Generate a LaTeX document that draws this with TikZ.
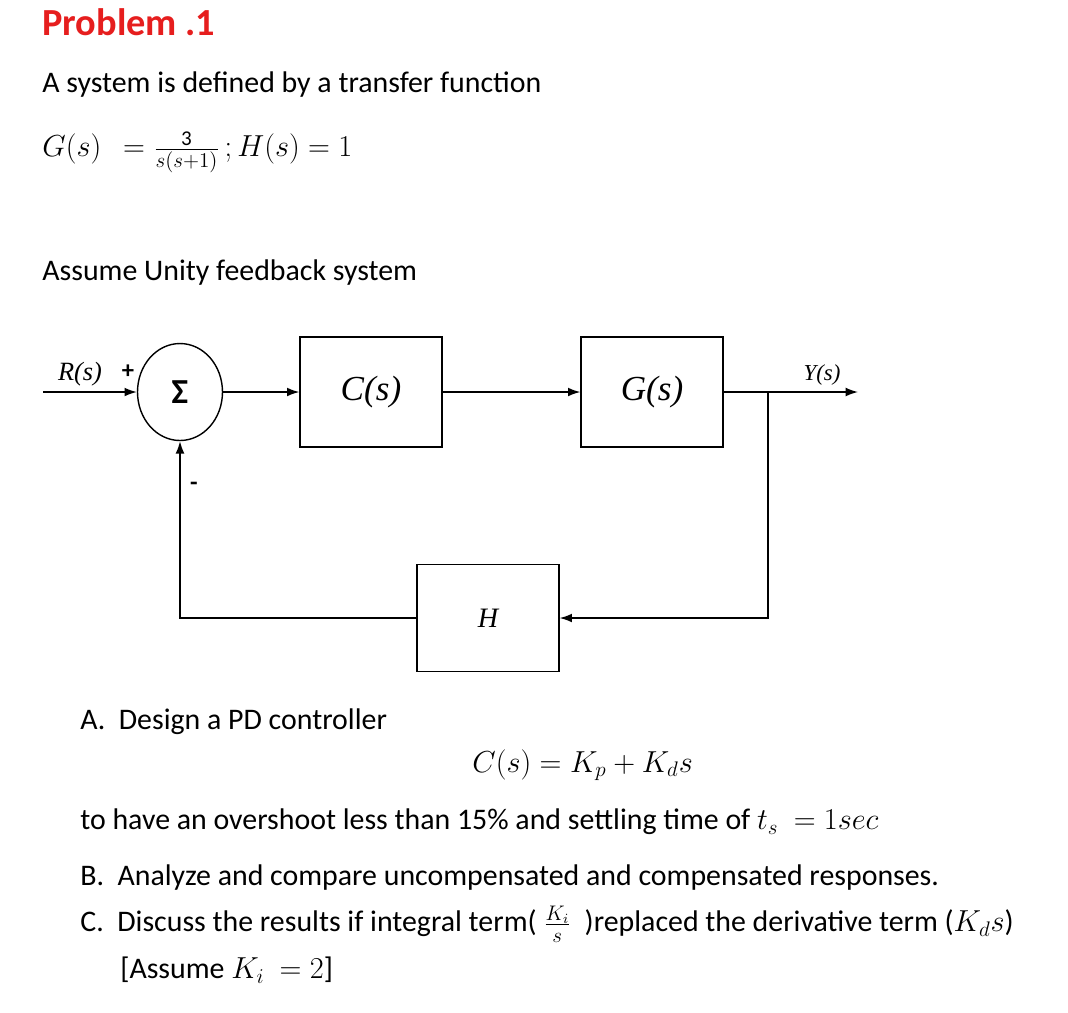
\documentclass[tikz,border=0pt]{standalone}
\usepackage{fontspec}
\setmainfont{Carlito}
\newfontfamily\blockfont{Liberation Serif}
\usetikzlibrary{shapes.geometric,arrows.meta}
\definecolor{titlered}{RGB}{230,30,30}
\tikzset{
  txt/.style={anchor=west, font=\fontsize{17}{20}\selectfont, inner sep=0pt},
  blockbox/.style={draw, thick, minimum width=2.84cm, minimum height=2.2cm,
    font=\blockfont\itshape\fontsize{20}{24}\selectfont},
  sig/.style={thick, -{Latex[length=7pt,width=5pt]}},
  wire/.style={thick}
}
\begin{document}
\begin{tikzpicture}[x=0.02cm, y=-0.02cm]
    \useasboundingbox (0,0) rectangle (1068,1012);

    % Problem text
    \node[txt, font=\bfseries\fontsize{21.8}{24}\selectfont, text=titlered] (title) at (42,22) {Problem .1};
    \node[txt] (intro) at (42,85) {A system is defined by a transfer function};
    \node[txt] (plant) at (42,152) {$G(s)\ \ =\frac{\mbox{\fontsize{12}{12}\selectfont 3}}{s(s+1)}\,;H(s)=1$};
    \node[txt] (unity) at (42,273) {Assume Unity feedback system};

    % Block diagram
    \coordinate (in) at (43,392);
    \node[draw, thick, ellipse, minimum width=1.7cm, minimum height=1.94cm, inner sep=0pt,
      font=\bfseries\fontsize{20}{20}\selectfont] (sum) at (180,392) {Σ};
    \node[blockbox] (ctrl) at (371,392) {C(s)};
    \node[blockbox] (plantbox) at (652,392) {G(s)};
    \node[blockbox, minimum height=2.14cm] (fb) at (488,618) {\fontsize{16}{18}\selectfont H};
    \coordinate (branch) at (768,392);
    \coordinate (out) at (858,392);
    \coordinate (fbr) at (768,618);
    \coordinate (fbl) at (180,618);

    \draw[sig] (in) -- (sum.west);
    \draw[sig] (sum.east) -- (ctrl.west);
    \draw[sig] (ctrl.east) -- (plantbox.west);
    \draw[sig] (plantbox.east) -- (out);
    \draw[sig] (branch) -- (fbr) -- (fb.east);
    \draw[sig] (fb.west) -- (fbl) -- (sum.south);

    \node[font=\blockfont\itshape\fontsize{15}{16}\selectfont, above] (rlab) at (80,392) {R(s)};
    \node[font=\blockfont\itshape\fontsize{13}{14}\selectfont, above] (ylab) at (822,392) {Y(s)};
    \node[font=\bfseries\fontsize{14}{14}\selectfont] (plus) at (128,372) {+};
    \node[font=\bfseries\fontsize{14}{14}\selectfont] (minus) at (194,486) {-};

    % Questions
    \node[txt] (qa) at (80,722) {A.\ \ Design a PD controller};
    \node[txt] (pd) at (472,765) {$C(s)=K_p+K_d s$};
    \node[txt] (spec) at (80,822) {to have an overshoot less than 15\% and settling time of $t_s\ =1sec$};
    \node[txt] (qb) at (80,878) {B.\ \ Analyze and compare uncompensated and compensated responses.};
    \node[txt] (qc) at (80,924) {C.\ \ Discuss the results if integral term( $\frac{K_i}{s}$ \ )replaced the derivative term ($K_d s$)};
    \node[txt] (qd) at (120,970) {[Assume $K_i\ =2$]};
\end{tikzpicture}
\end{document}
